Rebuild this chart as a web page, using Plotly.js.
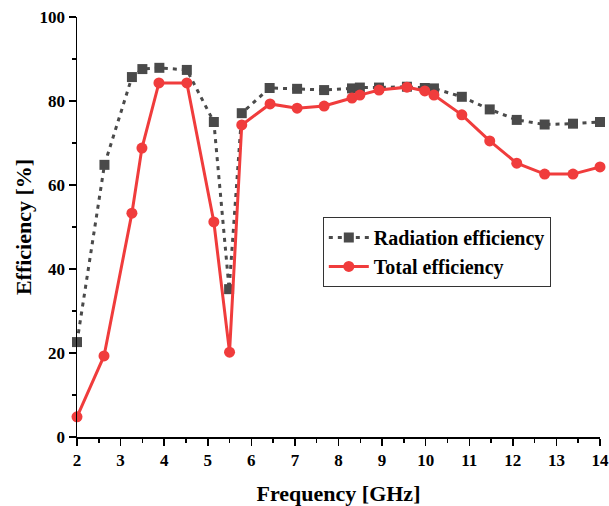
<!DOCTYPE html>
<html>
<head>
<meta charset="utf-8">
<script src="https://cdn.plot.ly/plotly-3.0.1.min.js"></script>
<style>html,body{margin:0;padding:0;background:#fff;}#chart{width:609px;height:506px;}</style>
</head>
<body>
<div id="chart"></div>
<script>
// Radiation efficiency
const radFreq = [2.0, 2.63, 3.26, 3.5, 3.89, 4.52, 5.14, 5.49, 5.78, 6.42, 7.05, 7.67, 8.31, 8.49, 8.93, 9.57, 9.98, 10.19, 10.83, 11.47, 12.09, 12.73, 13.38, 14.0];
const radEff  = [22.6, 64.8, 85.7, 87.6, 87.9, 87.4, 75.0, 35.2, 77.1, 83.1, 82.9, 82.6, 83.0, 83.2, 83.2, 83.4, 83.1, 83.0, 81.0, 78.0, 75.5, 74.4, 74.6, 75.0];
// Total efficiency
const totFreq = [2.0, 2.62, 3.26, 3.49, 3.88, 4.52, 5.14, 5.5, 5.78, 6.43, 7.05, 7.67, 8.31, 8.49, 8.93, 9.57, 9.98, 10.19, 10.83, 11.47, 12.09, 12.73, 13.38, 14.0];
const totEff  = [4.8, 19.3, 53.3, 68.8, 84.3, 84.3, 51.2, 20.2, 74.3, 79.3, 78.3, 78.8, 80.7, 81.4, 82.6, 83.3, 82.4, 81.4, 76.7, 70.5, 65.2, 62.6, 62.6, 64.3];
const xTicks = [2,3,4,5,6,7,8,9,10,11,12,13,14];
const yTicks = [0,20,40,60,80,100];

const font = '"Liberation Serif", serif';
const traces = [
  {x: radFreq, y: radEff, name: '<b>Radiation efficiency</b>', mode: 'lines+markers', cliponaxis: false,
   line: {color: '#4a4a4a', width: 3, dash: '4px,5px'},
   marker: {symbol: 'square', size: 10, color: '#4a4a4a'}},
  {x: totFreq, y: totEff, name: '<b>Total efficiency</b>', mode: 'lines+markers', cliponaxis: false,
   line: {color: '#f03c3c', width: 3},
   marker: {symbol: 'circle', size: 11, color: '#f03c3c'}}
];
const layout = {
  width: 609, height: 506,
  margin: {l: 77, r: 9, t: 17, b: 69},
  paper_bgcolor: '#fff', plot_bgcolor: '#fff',
  font: {family: font, color: '#000'},
  showlegend: true,
  legend: {x: 0.47, y: 0.524, xanchor: 'left', yanchor: 'top', bordercolor: '#333', borderwidth: 1,
           itemwidth: 40,
           font: {family: font, size: 20, color: '#000'}, bgcolor: '#fff', tracegroupgap: 0},
  xaxis: {range: [2, 14], tickvals: xTicks, ticktext: xTicks.map(v => '<b>' + v + '</b>'),
          ticklabeloverflow: 'allow',
          showgrid: false, zeroline: false, showline: true, linecolor: '#000', linewidth: 1.5,
          ticks: 'outside', ticklen: 7, tickwidth: 1.5, tickcolor: '#000',
          minor: {dtick: 0.5, ticks: 'outside', ticklen: 4, tickwidth: 1.5, tickcolor: '#000', showgrid: false},
          tickfont: {family: font, size: 17, color: '#000'},
          title: {text: '<b>Frequency [GHz]</b>', font: {family: font, size: 22, color: '#000'}, standoff: 20}},
  yaxis: {range: [0, 100], tickvals: yTicks, ticktext: yTicks.map(v => '<b>' + v + '</b>'),
          showgrid: false, zeroline: false, showline: true, linecolor: '#000', linewidth: 1.5,
          ticks: 'outside', ticklen: 7, tickwidth: 1.5, tickcolor: '#000',
          minor: {dtick: 10, ticks: 'outside', ticklen: 4, tickwidth: 1.5, tickcolor: '#000', showgrid: false},
          tickfont: {family: font, size: 17, color: '#000'},
          title: {text: '<b>Efficiency [%]</b>', font: {family: font, size: 22, color: '#000'}, standoff: 2}}
};
Plotly.newPlot('chart', traces, layout, {displayModeBar: false, staticPlot: true});
</script>
</body>
</html>
